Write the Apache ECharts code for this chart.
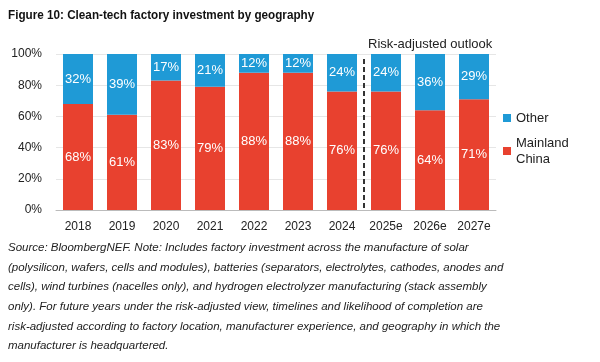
<!DOCTYPE html>
<html><head><meta charset="utf-8">
<script src="https://cdn.jsdelivr.net/npm/echarts@6/dist/echarts.min.js"></script>
<style>html,body{margin:0;padding:0;background:#fff}#c{width:600px;height:362px}</style>
</head><body><div id="c"></div>
<script>
const categories = ['2018','2019','2020','2021','2022','2023','2024','2025e','2026e','2027e'];
const china = [68,61,83,79,88,88,76,76,64,71];
const other = [32,39,17,21,12,12,24,24,36,29];
const yTicks = [0,20,40,60,80,100];
const title = 'Figure 10: Clean-tech factory investment by geography';
const noteLines = [
 'Source: BloombergNEF. Note: Includes factory investment across the manufacture of solar',
 '(polysilicon, wafers, cells and modules), batteries (separators, electrolytes, cathodes, anodes and',
 'cells), wind turbines (nacelles only), and hydrogen electrolyzer manufacturing (stack assembly',
 'only). For future years under the risk-adjusted view, timelines and likelihood of completion are',
 'risk-adjusted according to factory location, manufacturer experience, and geography in which the',
 'manufacturer is headquartered.'
];
const FONT = '"Liberation Sans", Arial, sans-serif';
const chart = echarts.init(document.getElementById('c'), null, {renderer:'canvas'});
const lbl = {show:true, position:'inside', color:'#fff', fontSize:13, fontFamily:FONT, formatter:p=>p.value+'%'};
const option = {
  backgroundColor:'#fff',
  animation:false,
  grid:{left:56, right:104, top:54, height:156},
  xAxis:{type:'category', data:categories, axisTick:{show:false},
    axisLine:{lineStyle:{color:'#bbb'}},
    axisLabel:{color:'#222', fontSize:12, fontFamily:FONT, margin:11}},
  yAxis:{type:'value', min:0, max:100, interval:20,
    axisLabel:{color:'#222', fontSize:12, fontFamily:FONT, formatter:v=>v+'%', margin:14},
    splitLine:{lineStyle:{color:'#e6e6e6'}}, axisLine:{show:false}, axisTick:{show:false}},
  legend:{orient:'vertical', left:498, top:105, itemWidth:8, itemHeight:8, itemGap:9,
    icon:'rect', data:['Other','Mainland\nChina'],
    textStyle:{color:'#222', fontSize:13, fontFamily:FONT, lineHeight:16}},
  series:[
    {name:'Mainland\nChina', type:'bar', stack:'a', data:china, barWidth:30,
     itemStyle:{color:'#E8412F'}, label:lbl},
    {name:'Other', type:'bar', stack:'a', data:other, barWidth:30,
     itemStyle:{color:'#1F9AD6'}, label:lbl}
  ]
};
chart.setOption(option);
const x1 = chart.convertToPixel({xAxisIndex:0}, categories[6]);
const x2 = chart.convertToPixel({xAxisIndex:0}, categories[7]);
const xd = (x1+x2)/2;
const yTop = chart.convertToPixel({yAxisIndex:0}, 100);
const yBot = chart.convertToPixel({yAxisIndex:0}, 0);
const gfx = [
  {type:'text', x:8, y:9, scaleX:0.9, style:{text:title, fontSize:13, fontWeight:'bold', fontFamily:FONT, fill:'#111'}},
  {type:'line', shape:{x1:xd, y1:yTop+5, x2:xd, y2:yBot}, style:{stroke:'#333', lineWidth:2, lineDash:[5,3]}},
  {type:'text', left:xd+4, top:yTop-16, style:{text:'Risk-adjusted outlook', fontSize:13, fontFamily:FONT, fill:'#222'}}
];
noteLines.forEach((t,i)=>gfx.push({type:'text', left:8, top:242+i*19.6,
  style:{text:t, fontSize:11.5, fontStyle:'italic', fontFamily:FONT, fill:'#222'}}));
chart.setOption({graphic:gfx});
</script></body></html>
